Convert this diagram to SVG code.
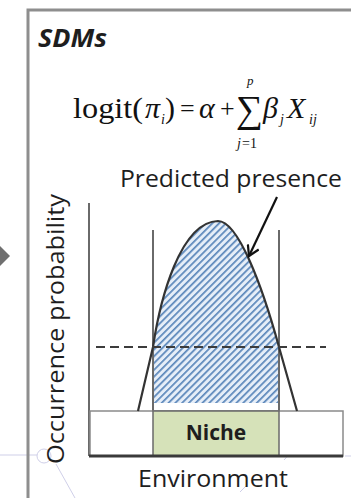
<svg xmlns="http://www.w3.org/2000/svg" width="351" height="498" viewBox="0 0 351 498">
<style>
.lbl{font-family:"Open Sans","Liberation Sans",sans-serif;fill:#1e1e1e}
.math{font-family:"Liberation Serif","Times New Roman",serif;fill:#111}
.it{font-style:italic}
.axis{stroke:#6a6a6a;stroke-width:2;fill:none}
.deco{stroke:#cfcfe8;stroke-width:1;fill:none}
</style>
<defs>
<pattern id="hatch" patternUnits="userSpaceOnUse" width="10" height="4.8" patternTransform="rotate(-45)">
<rect x="0" y="0" width="10" height="4.8" fill="#e6eef8"/>
<rect x="0" y="0" width="10" height="1.7" fill="#5a86ba"/>
</pattern>
<marker id="vhead" markerWidth="14" markerHeight="14" refX="11" refY="7" orient="auto" markerUnits="userSpaceOnUse">
<path d="M1,1 L11,7 L1,13" fill="none" stroke="#111" stroke-width="2.2"/>
</marker>
</defs>
<rect width="351" height="498" fill="#fff"/>
<g id="background">
<polygon points="0,246 10,256 0,266" fill="#6f6f6f"/>
<line class="deco" x1="0" y1="455" x2="37" y2="455"/>
<circle class="deco" cx="44" cy="456" r="7"/>
<line class="deco" x1="56" y1="464" x2="75" y2="498"/>
<path class="deco" d="M278,444 A9,9 0 0 1 284,460"/>
<line class="deco" x1="345" y1="456" x2="351" y2="456"/>
<line class="deco" x1="240" y1="492" x2="246" y2="486"/>
<path d="M28,498 L28,10 L351,10" fill="none" stroke="#8e8e8e" stroke-width="3"/>
</g>
<g id="title">
<text class="lbl" x="38" y="47" font-size="25" font-weight="bold" font-style="italic" textLength="69" lengthAdjust="spacingAndGlyphs">SDMs</text>
</g>
<g id="formula" class="math">
<text x="73" y="118" font-size="30" textLength="70" lengthAdjust="spacingAndGlyphs">logit(</text>
<text class="it" x="145" y="118" font-size="30">π</text>
<text class="it" x="161" y="124" font-size="14">i</text>
<text x="165" y="118" font-size="30">)</text>
<text x="180" y="117" font-size="26">=</text>
<text class="it" x="199" y="118" font-size="30">α</text>
<text x="220" y="117" font-size="26">+</text>
<text x="236" y="122" font-size="38">∑</text>
<text class="it" x="247" y="85" font-size="13">p</text>
<text class="it" x="237" y="148" font-size="14">j</text>
<text x="242" y="148" font-size="14">=1</text>
<text class="it" x="263" y="118" font-size="30">β</text>
<text class="it" x="280" y="124" font-size="14">j</text>
<text class="it" x="287" y="118" font-size="30">X</text>
<text class="it" x="309" y="124" font-size="14">ij</text>
</g>
<g id="predicted-presence">
<text class="lbl" x="120" y="187" font-size="24" textLength="222" lengthAdjust="spacingAndGlyphs">Predicted presence</text>
</g>
<g id="y-axis-label">
<text class="lbl" transform="translate(64,464) rotate(-90)" font-size="24" textLength="270" lengthAdjust="spacingAndGlyphs">Occurrence probability</text>
</g>
<g id="hatched-area">
<path d="M153,403 L153,347 C160,300 180,222 218,221 C238,221 262,285 279,347 L279,403 Z" fill="url(#hatch)"/>
</g>
<g id="axes">
<line class="axis" x1="89" y1="203" x2="89" y2="456"/>
<line class="axis" x1="153" y1="230" x2="153" y2="456"/>
<line class="axis" x1="279" y1="230" x2="279" y2="456"/>
</g>
<g id="niche-box">
<rect x="90" y="411" width="253" height="45" fill="#fff" stroke="#8a8a8a" stroke-width="1.5"/>
<rect x="153" y="411" width="126" height="45" fill="#d6e2b9" stroke="#6a6a6a" stroke-width="1.5"/>
<line x1="89" y1="456" x2="343" y2="456" stroke="#3a3a3a" stroke-width="3"/>
<text class="lbl" x="216" y="440" font-size="21" font-weight="bold" text-anchor="middle">Niche</text>
</g>
<g id="curve">
<path d="M138,411 L153,347 C160,300 180,222 218,221 C238,221 262,285 279,347 L297,411" fill="none" stroke="#333" stroke-width="2.2"/>
</g>
<g id="connectors">
<line x1="96" y1="347" x2="326" y2="347" stroke="#3c3c3c" stroke-width="2.2" stroke-dasharray="9,5"/>
<line x1="277" y1="197" x2="249" y2="256" stroke="#111" stroke-width="2.2" marker-end="url(#vhead)"/>
</g>
<g id="x-axis-label">
<text class="lbl" x="213" y="487" font-size="23" text-anchor="middle" textLength="150" lengthAdjust="spacingAndGlyphs">Environment</text>
</g>
</svg>
